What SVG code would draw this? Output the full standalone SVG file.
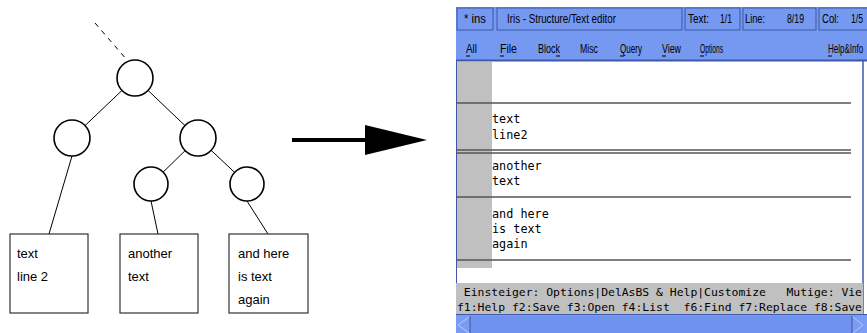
<svg xmlns="http://www.w3.org/2000/svg" width="867" height="333" viewBox="0 0 867 333">
  <style>
    .node { fill: #ffffff; stroke: #000000; stroke-width: 1.6; }
    .edge { stroke: #000000; stroke-width: 1; fill: none; }
    .leaf { fill: #ffffff; stroke: #333333; stroke-width: 1.2; }
    .leaftxt { font-family: "Liberation Sans", Arial, sans-serif; font-size: 13px; fill: #000000; }
    .bar { fill: #7598f0; }
    .seg { fill: #7598f0; stroke: #3d58a8; stroke-width: 1; }
    .ui { font-family: "Liberation Sans", Arial, sans-serif; font-size: 12.5px; fill: #000000; }
    .mono { font-family: "DejaVu Sans Mono", "Liberation Mono", monospace; font-size: 11.8px; fill: #000000; white-space: pre; }
    .status { font-size: 11.35px; }
    .sep { stroke: #555555; stroke-width: 1.5; }
    .ul { stroke: #000000; stroke-width: 1; }
  </style>

  <rect x="0" y="0" width="867" height="333" fill="#ffffff"/>

  <!-- tree edges -->
  <g id="connectors">
    <line class="edge" x1="95" y1="23" x2="127" y2="60" stroke-dasharray="5,5"/>
    <line class="edge" x1="135" y1="78" x2="72" y2="138"/>
    <line class="edge" x1="135" y1="78" x2="198" y2="138"/>
    <line class="edge" x1="198" y1="138" x2="151" y2="184"/>
    <line class="edge" x1="198" y1="138" x2="247" y2="184"/>
    <line class="edge" x1="72" y1="156" x2="49" y2="234"/>
    <line class="edge" x1="151" y1="201" x2="158" y2="234"/>
    <line class="edge" x1="247" y1="201" x2="268" y2="234"/>
  </g>

  <!-- tree nodes -->
  <g id="root"><circle class="node" cx="135" cy="78" r="18"/></g>
  <g id="left"><circle class="node" cx="72" cy="138" r="18"/></g>
  <g id="right"><circle class="node" cx="198" cy="138" r="18"/></g>
  <g id="right-left"><circle class="node" cx="151" cy="184" r="17"/></g>
  <g id="right-right"><circle class="node" cx="247" cy="184" r="17"/></g>

  <!-- leaf boxes -->
  <g id="leaf1">
    <rect class="leaf" x="10" y="234" width="78" height="79"/>
    <text class="leaftxt" x="17" y="258">text</text>
    <text class="leaftxt" x="17" y="281">line 2</text>
  </g>
  <g id="leaf2">
    <rect class="leaf" x="120" y="234" width="78" height="79"/>
    <text class="leaftxt" x="128" y="258">another</text>
    <text class="leaftxt" x="128" y="281">text</text>
  </g>
  <g id="leaf3">
    <rect class="leaf" x="229" y="234" width="79" height="79"/>
    <text class="leaftxt" x="238" y="258">and here</text>
    <text class="leaftxt" x="238" y="281">is text</text>
    <text class="leaftxt" x="238" y="304">again</text>
  </g>

  <!-- big arrow -->
  <g id="arrow">
    <line x1="292" y1="140" x2="368" y2="140" stroke="#000000" stroke-width="4"/>
    <polygon points="365,125 427,140 365,155" fill="#000000"/>
  </g>

  <!-- editor window -->
  <g id="editor">
    <!-- title bar -->
    <rect class="bar" x="456" y="7" width="411" height="24"/>
    <rect class="seg" x="457" y="8" width="36" height="22"/>
    <rect class="seg" x="497" y="8" width="185" height="22"/>
    <rect class="seg" x="685" y="8" width="55" height="22"/>
    <rect class="seg" x="743" y="8" width="73" height="22"/>
    <rect class="seg" x="819" y="8" width="50" height="22"/>
    <text class="ui" x="464" y="23" textLength="22" lengthAdjust="spacingAndGlyphs">* ins</text>
    <text class="ui" x="507" y="23" textLength="109" lengthAdjust="spacingAndGlyphs">Iris - Structure/Text editor</text>
    <text class="ui" x="688" y="23" textLength="21" lengthAdjust="spacingAndGlyphs">Text:</text>
    <text class="ui" x="720" y="23" textLength="12" lengthAdjust="spacingAndGlyphs">1/1</text>
    <text class="ui" x="745" y="23" textLength="20" lengthAdjust="spacingAndGlyphs">Line:</text>
    <text class="ui" x="787" y="23" textLength="17" lengthAdjust="spacingAndGlyphs">8/19</text>
    <text class="ui" x="822" y="23" textLength="17" lengthAdjust="spacingAndGlyphs">Col:</text>
    <text class="ui" x="851" y="23" textLength="12" lengthAdjust="spacingAndGlyphs">1/5</text>

    <!-- menu bar -->
    <rect class="bar" x="456" y="31" width="411" height="30" fill="#7a9cf2"/>
    <line x1="456" y1="60.5" x2="867" y2="60.5" stroke="#3d58a8" stroke-width="2"/>
    <text class="ui" x="466" y="53" textLength="11" lengthAdjust="spacingAndGlyphs">All</text>
    <text class="ui" x="500" y="53" textLength="17" lengthAdjust="spacingAndGlyphs">File</text>
    <text class="ui" x="538" y="53" textLength="22" lengthAdjust="spacingAndGlyphs">Block</text>
    <text class="ui" x="580" y="53" textLength="18" lengthAdjust="spacingAndGlyphs">Misc</text>
    <text class="ui" x="620" y="53" textLength="22" lengthAdjust="spacingAndGlyphs">Query</text>
    <text class="ui" x="662" y="53" textLength="19" lengthAdjust="spacingAndGlyphs">View</text>
    <text class="ui" x="700" y="53" textLength="23" lengthAdjust="spacingAndGlyphs">Options</text>
    <text class="ui" x="0" y="0" transform="translate(828,53) scale(0.64,1)">Help&amp;Info</text>
    <line class="ul" x1="466" y1="56" x2="470" y2="56"/>
    <line class="ul" x1="500" y1="56" x2="504" y2="56"/>
    <line class="ul" x1="556" y1="56" x2="560" y2="56"/>
    <line class="ul" x1="620" y1="56" x2="624" y2="56"/>
    <line class="ul" x1="662" y1="56" x2="666" y2="56"/>
    <line class="ul" x1="700" y1="56" x2="704" y2="56"/>
    <line class="ul" x1="828" y1="56" x2="832" y2="56"/>

    <!-- text area -->
    <rect x="457" y="62" width="406" height="221" fill="#ffffff"/>
    <rect x="457" y="62" width="35" height="206" fill="#c0c0c0"/>
    <line x1="456.5" y1="61" x2="456.5" y2="315" stroke="#3d58a8" stroke-width="1"/>
    <line x1="863" y1="61" x2="863" y2="315" stroke="#3d58a8" stroke-width="1.5"/>
    <line class="sep" x1="456" y1="103" x2="851" y2="103"/>
    <line class="sep" x1="456" y1="150" x2="851" y2="150"/>
    <line class="sep" x1="456" y1="153" x2="851" y2="153"/>
    <line class="sep" x1="456" y1="197" x2="851" y2="197"/>
    <line class="sep" x1="456" y1="260" x2="851" y2="260"/>
    <text class="mono" x="492" y="123">text</text>
    <text class="mono" x="492" y="139">line2</text>
    <text class="mono" x="492" y="170">another</text>
    <text class="mono" x="492" y="185">text</text>
    <text class="mono" x="492" y="218">and here</text>
    <text class="mono" x="492" y="233">is text</text>
    <text class="mono" x="492" y="248">again</text>

    <!-- status lines -->
    <rect x="456" y="283" width="407" height="31" fill="#c0c0c0"/>
    <text class="mono status" x="457" y="296" textLength="405" lengthAdjust="spacingAndGlyphs" xml:space="preserve"> Einsteiger: Options|DelAsBS &amp; Help|Customize   Mutige: Vie</text>
    <text class="mono status" x="457" y="311" textLength="405" lengthAdjust="spacingAndGlyphs" xml:space="preserve">f1:Help f2:Save f3:Open f4:List  f6:Find f7:Replace f8:Save</text>

    <!-- horizontal scroll bar -->
    <rect x="456" y="314" width="411" height="19" fill="#7a9cf2"/>
    <line x1="456" y1="314.5" x2="867" y2="314.5" stroke="#3d58a8" stroke-width="1"/>
    <rect x="470" y="316" width="382" height="17" fill="#6f92ee"/>
    <polyline points="469,317 458,325 469,333" fill="none" stroke="#b8c8f8" stroke-width="1"/>
    <polyline points="853,317 863,325 853,333" fill="none" stroke="#b8c8f8" stroke-width="1"/>
    <line x1="470" y1="316" x2="470" y2="333" stroke="#3d58a8" stroke-width="1"/>
    <line x1="852" y1="316" x2="852" y2="333" stroke="#3d58a8" stroke-width="1"/>
  </g>
</svg>
